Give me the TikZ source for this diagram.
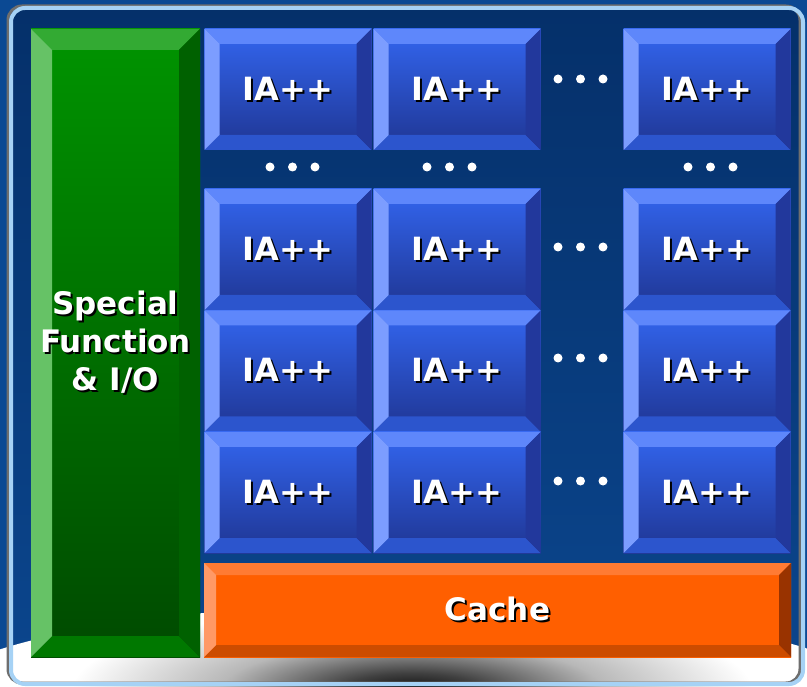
\documentclass[tikz,border=0pt]{standalone}
\usepackage{fontspec}
\newfontfamily\blockfont{DejaVu Sans}
\usetikzlibrary{calc}
\usepackage{xcolor}

% block colours: top / left / right / bottom bevel, face top and bottom
\definecolor{tiletop}{HTML}{5E87FB}
\definecolor{tileleft}{HTML}{7C9DFF}
\definecolor{tileright}{HTML}{22389C}
\definecolor{tilebot}{HTML}{2C55CD}
\definecolor{tilehi}{HTML}{3366F0}
\definecolor{tilelo}{HTML}{1F3592}
\definecolor{iotop}{HTML}{33AA33}
\definecolor{ioleft}{HTML}{66C266}
\definecolor{ioright}{HTML}{006100}
\definecolor{iobot}{HTML}{007800}
\definecolor{iohi}{HTML}{009400}
\definecolor{iolo}{HTML}{004A00}
\definecolor{cachetop}{HTML}{FF7B33}
\definecolor{cacheleft}{HTML}{FF9966}
\definecolor{cacheright}{HTML}{993300}
\definecolor{cachebot}{HTML}{CC4C00}
\definecolor{cachehi}{HTML}{FF5F00}
\definecolor{cachelo}{HTML}{FF5F00}
% die and frame
\definecolor{chipbg}{HTML}{0B4993}
\definecolor{dietop}{HTML}{05306A}
\definecolor{diebot}{HTML}{0B468E}
\definecolor{rimblue}{HTML}{A6D2F5}
\definecolor{rimshadow}{HTML}{6E6E6E}

% floor shadow under the die
\pgfdeclareradialshading{floorshade}{\pgfpoint{0bp}{0bp}}{%
    color(0bp)=(black!95); color(5bp)=(black!75); color(14bp)=(black!28); color(25bp)=(white); color(50bp)=(white)}

% white text with a black drop shadow
\newcommand{\shtxt}[1]{\makebox[0pt][l]{\kern2pt\raisebox{-2pt}{\color{black}#1}}#1}

\begin{document}
\begin{tikzpicture}[
        x=1pt, y=-1pt,
        bevel/.style 2 args={path picture={
            \coordinate (bvnw) at (path picture bounding box.north west);
            \coordinate (bvne) at (path picture bounding box.north east);
            \coordinate (bvsw) at (path picture bounding box.south west);
            \coordinate (bvse) at (path picture bounding box.south east);
            \shade[top color=#1hi, bottom color=#1lo] (bvsw) rectangle (bvne);
            \fill[#1top] (bvnw) -- (bvne) -- ($(bvne)+(-#2,-#2)$) -- ($(bvnw)+(#2,-#2)$) -- cycle;
            \fill[#1bot] (bvsw) -- (bvse) -- ($(bvse)+(-#2,#2)$) -- ($(bvsw)+(#2,#2)$) -- cycle;
            \fill[#1left] (bvnw) -- ($(bvnw)+(#2,-#2)$) -- ($(bvsw)+(#2,#2)$) -- (bvsw) -- cycle;
            \fill[#1right] (bvne) -- ($(bvne)+(-#2,-#2)$) -- ($(bvse)+(-#2,#2)$) -- (bvse) -- cycle;
        }},
        tile/.style={bevel={tile}{15pt}, minimum width=167pt, minimum height=121pt, inner sep=0pt,
            text=white, font=\blockfont\bfseries\fontsize{32}{38}\selectfont},
        iobox/.style={bevel={io}{21pt}, minimum width=169pt, minimum height=628pt, inner sep=0pt,
            text=white, align=center, font=\blockfont\bfseries\fontsize{31}{38}\selectfont},
        cachebox/.style={bevel={cache}{12pt}, minimum width=587pt, minimum height=94pt, inner sep=0pt,
            text=white, font=\blockfont\bfseries\fontsize{31}{38}\selectfont},
        dot/.style={fill=white}
    ]
        \useasboundingbox (0,0) rectangle (807,687);

        % Background, die and floor
        \fill[chipbg] (0,0) rectangle (807,687);
        \shade[top color=dietop, bottom color=diebot, rounded corners=14pt] (11,8) rectangle (803,684);
        \begin{scope}
            \clip (405,702) ellipse [x radius=480, y radius=98];
            \fill[white] (0,580) rectangle (807,687);
            \shade[shading=floorshade] (412,690) ellipse [x radius=340, y radius=85];
        \end{scope}

        % Frame
        \draw[line width=3pt, rimshadow, rounded corners=14pt] (8,6) rectangle (800,683);
        \draw[line width=4pt, rimblue, rounded corners=14pt] (11,8) rectangle (803,684);

        % Special function block
        \node[iobox] (io) at (115.5,343) {\shtxt{Special}\\\shtxt{Function}\\\shtxt{\& I/O}};

        % Cores, first row
        \node[tile] (ia11) at (288,89.5) {\shtxt{IA++}};
        \node[tile] (ia12) at (457,89.5) {\shtxt{IA++}};
        \node[tile] (ia13) at (707,89.5) {\shtxt{IA++}};

        % Cores, second row
        \node[tile] (ia21) at (288,249.5) {\shtxt{IA++}};
        \node[tile] (ia22) at (457,249.5) {\shtxt{IA++}};
        \node[tile] (ia23) at (707,249.5) {\shtxt{IA++}};

        % Cores, third row
        \node[tile] (ia31) at (288,371) {\shtxt{IA++}};
        \node[tile] (ia32) at (457,371) {\shtxt{IA++}};
        \node[tile] (ia33) at (707,371) {\shtxt{IA++}};

        % Cores, fourth row
        \node[tile] (ia41) at (288,492.5) {\shtxt{IA++}};
        \node[tile] (ia42) at (457,492.5) {\shtxt{IA++}};
        \node[tile] (ia43) at (707,492.5) {\shtxt{IA++}};

        % Shared cache
        \node[cachebox] (cache) at (497.5,610) {\shtxt{Cache}};

        % Ellipses between the cores
        \foreach \dx in {0,22.5,45} {
            \fill[dot] (270+\dx,167) circle (4.5);
            \fill[dot] (427+\dx,167) circle (4.5);
            \fill[dot] (688+\dx,167) circle (4.5);
            \foreach \dy in {79,247,358,481}
                \fill[dot] (558+\dx,\dy) circle (4.5);
        }
    \end{tikzpicture}
\end{document}
